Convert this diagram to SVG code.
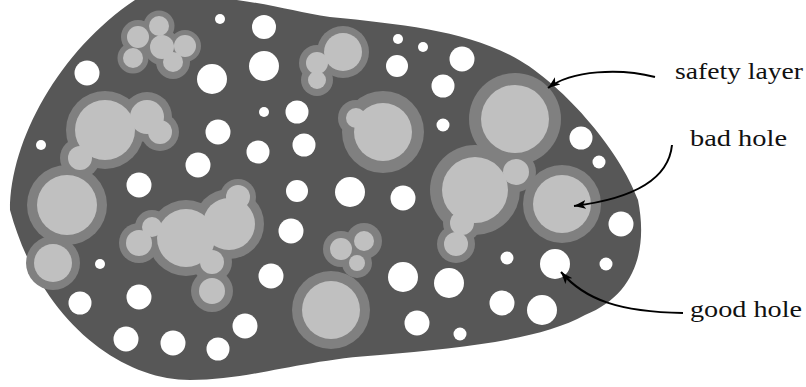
<svg xmlns="http://www.w3.org/2000/svg" width="806" height="387" viewBox="0 0 806 387">
<defs>
<style>
.halo{fill:#808080}
.bad{fill:#c0c0c0}
.good{fill:#ffffff}
.lbl{font-size:24px;fill:#111}
.arr{fill:none;stroke:#000;stroke-width:2}
</style>
<marker id="ah" markerUnits="userSpaceOnUse" markerWidth="14" markerHeight="10" refX="12" refY="5" orient="auto">
<path d="M0,0.5 L12,5 L0,9.5 L3,5 Z" fill="#000"/>
</marker>
</defs>
<rect width="806" height="387" fill="#fff"/>
<g id="body">
<path d="M10,210 C10,140 60,50 135,0 L150,-5 C250,-5 280,10 330,17 C400,24 460,30 510,55 C560,80 620,150 638,200 C648,250 635,295 585,315 C540,340 460,348 380,355 C300,360 250,380 190,380 C120,380 40,320 10,210 Z" fill="#575757"/>
</g>
<g id="bad-holes">
<g id="halos">
<circle class="halo" cx="159" cy="26" r="15.5"/><circle class="halo" cx="138" cy="37" r="17"/><circle class="halo" cx="133" cy="58" r="15.5"/><circle class="halo" cx="162" cy="47" r="18"/><circle class="halo" cx="185" cy="46" r="16"/><circle class="halo" cx="173" cy="62" r="17"/>
<circle class="halo" cx="105" cy="130" r="39"/><circle class="halo" cx="147" cy="117" r="25"/><circle class="halo" cx="160" cy="132" r="19"/><circle class="halo" cx="80" cy="158" r="20"/>
<circle class="halo" cx="67" cy="205" r="40"/>
<circle class="halo" cx="53" cy="263" r="27"/>
<circle class="halo" cx="186" cy="238" r="38"/><circle class="halo" cx="229" cy="224" r="35"/><circle class="halo" cx="238" cy="197" r="18"/><circle class="halo" cx="139" cy="243" r="20"/><circle class="halo" cx="152" cy="227" r="17"/><circle class="halo" cx="212" cy="262" r="20"/><circle class="halo" cx="212" cy="291" r="21"/>
<circle class="halo" cx="343" cy="52" r="26"/><circle class="halo" cx="317" cy="63" r="18"/><circle class="halo" cx="317" cy="80" r="16"/>
<circle class="halo" cx="383" cy="132" r="41"/><circle class="halo" cx="356" cy="118" r="18"/>
<circle class="halo" cx="341" cy="249" r="18"/><circle class="halo" cx="364" cy="241" r="18"/><circle class="halo" cx="357" cy="263" r="15"/>
<circle class="halo" cx="331" cy="310" r="39"/>
<circle class="halo" cx="515" cy="119" r="46"/>
<circle class="halo" cx="475" cy="190" r="45"/><circle class="halo" cx="516" cy="172" r="20"/><circle class="halo" cx="462" cy="223" r="19"/><circle class="halo" cx="456" cy="244" r="19"/>
<circle class="halo" cx="562" cy="204" r="39"/>
</g>
<g id="cores">
<circle class="bad" cx="159" cy="26" r="10"/><circle class="bad" cx="138" cy="37" r="11"/><circle class="bad" cx="133" cy="58" r="10"/><circle class="bad" cx="162" cy="47" r="12"/><circle class="bad" cx="185" cy="46" r="11"/><circle class="bad" cx="173" cy="62" r="10"/>
<circle class="bad" cx="105" cy="130" r="30"/><circle class="bad" cx="147" cy="117" r="17"/><circle class="bad" cx="160" cy="132" r="12"/><circle class="bad" cx="80" cy="158" r="12"/>
<circle class="bad" cx="67" cy="205" r="30"/>
<circle class="bad" cx="53" cy="263" r="19"/>
<circle class="bad" cx="186" cy="238" r="29"/><circle class="bad" cx="229" cy="224" r="26"/><circle class="bad" cx="238" cy="197" r="12"/><circle class="bad" cx="139" cy="243" r="13"/><circle class="bad" cx="152" cy="227" r="10"/><circle class="bad" cx="212" cy="262" r="12"/><circle class="bad" cx="212" cy="291" r="13"/>
<circle class="bad" cx="343" cy="52" r="19"/><circle class="bad" cx="317" cy="63" r="11"/><circle class="bad" cx="317" cy="80" r="9"/>
<circle class="bad" cx="383" cy="132" r="29"/><circle class="bad" cx="356" cy="118" r="10"/>
<circle class="bad" cx="341" cy="249" r="11"/><circle class="bad" cx="364" cy="241" r="10"/><circle class="bad" cx="357" cy="263" r="8"/>
<circle class="bad" cx="331" cy="310" r="29"/>
<circle class="bad" cx="515" cy="119" r="34"/>
<circle class="bad" cx="475" cy="190" r="33"/><circle class="bad" cx="516" cy="172" r="13"/><circle class="bad" cx="462" cy="223" r="12"/><circle class="bad" cx="456" cy="244" r="12"/>
<circle class="bad" cx="562" cy="204" r="29"/>
</g>
</g>
<g id="good-holes">
<circle class="good" cx="220" cy="19" r="5"/><circle class="good" cx="264" cy="27" r="12"/><circle class="good" cx="264" cy="66" r="15"/><circle class="good" cx="212" cy="79" r="15"/><circle class="good" cx="87" cy="73" r="12.5"/>
<circle class="good" cx="297" cy="112" r="11.5"/><circle class="good" cx="264" cy="112" r="5"/><circle class="good" cx="218" cy="132" r="12.5"/><circle class="good" cx="304" cy="145" r="11.5"/><circle class="good" cx="258" cy="152" r="11.5"/><circle class="good" cx="198" cy="165" r="12.5"/><circle class="good" cx="41" cy="145" r="5"/><circle class="good" cx="139" cy="185" r="12.5"/><circle class="good" cx="297" cy="191" r="11"/>
<circle class="good" cx="398" cy="39" r="5"/><circle class="good" cx="423" cy="47" r="5"/><circle class="good" cx="397" cy="66" r="11"/><circle class="good" cx="462" cy="59" r="12.5"/><circle class="good" cx="443" cy="86" r="11.5"/><circle class="good" cx="443" cy="125" r="6.5"/><circle class="good" cx="581" cy="138" r="11.5"/><circle class="good" cx="599" cy="162" r="6.5"/>
<circle class="good" cx="350" cy="192" r="15"/><circle class="good" cx="403" cy="198" r="12.5"/><circle class="good" cx="291" cy="231" r="12.5"/>
<circle class="good" cx="100" cy="264" r="5"/><circle class="good" cx="271" cy="276" r="12.5"/><circle class="good" cx="139" cy="297" r="12.5"/><circle class="good" cx="80" cy="303" r="11.5"/><circle class="good" cx="245" cy="326" r="12.5"/><circle class="good" cx="126" cy="339" r="12.5"/><circle class="good" cx="173" cy="343" r="12.5"/><circle class="good" cx="218" cy="349" r="11.5"/>
<circle class="good" cx="621" cy="224" r="12.5"/><circle class="good" cx="507" cy="258" r="6.5"/><circle class="good" cx="555" cy="264" r="15"/><circle class="good" cx="606" cy="264" r="6.5"/><circle class="good" cx="403" cy="277" r="15"/><circle class="good" cx="449" cy="283" r="15"/><circle class="good" cx="502" cy="303" r="12.5"/><circle class="good" cx="542" cy="310" r="15"/><circle class="good" cx="417" cy="323" r="12.5"/><circle class="good" cx="460" cy="334" r="6.5"/>
</g>
<g id="connectors">
<path class="arr" d="M655,77 C620,68 572,70 548,88" marker-end="url(#ah)"/>
<path class="arr" d="M672,145 C668,185 622,200 574,206" marker-end="url(#ah)"/>
<path class="arr" d="M683,313 C620,312 585,300 561,272" marker-end="url(#ah)"/>
</g>
<g id="label-safety"><text class="lbl" font-family="'Liberation Serif', 'DejaVu Serif', serif" x="675" y="79" textLength="128" lengthAdjust="spacingAndGlyphs">safety layer</text></g>
<g id="label-bad"><text class="lbl" font-family="'Liberation Serif', 'DejaVu Serif', serif" x="690" y="146" textLength="97" lengthAdjust="spacingAndGlyphs">bad hole</text></g>
<g id="label-good"><text class="lbl" font-family="'Liberation Serif', 'DejaVu Serif', serif" x="690" y="317" textLength="112" lengthAdjust="spacingAndGlyphs">good hole</text></g>
</svg>
